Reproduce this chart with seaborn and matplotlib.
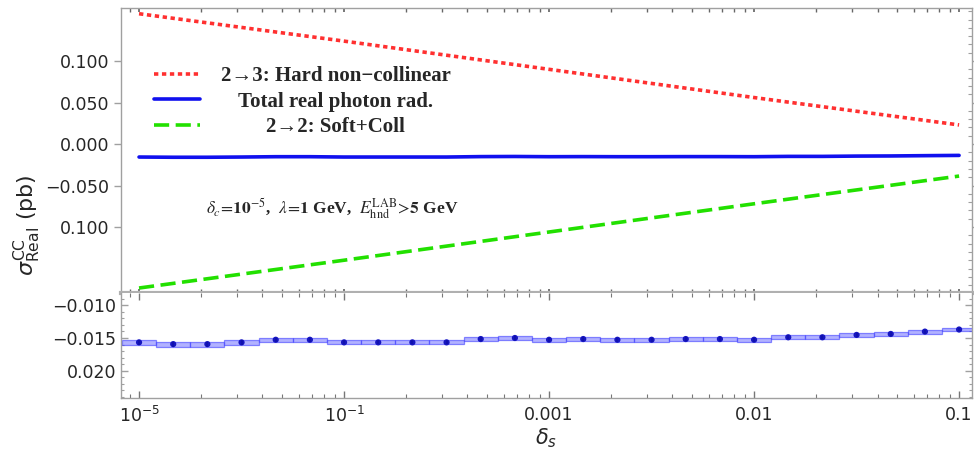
import numpy as np
import pandas as pd
import matplotlib
matplotlib.use("Agg")
import matplotlib.pyplot as plt
from matplotlib.ticker import FixedLocator, NullFormatter, LogLocator
import seaborn as sns

# ---------------- data ----------------
delta_s_lines = [1e-5, 1e-4, 1e-3, 1e-2, 1e-1]
hard_noncoll = [0.157, 0.124, 0.090, 0.056, 0.023]
soft_coll = [-0.1735, -0.140, -0.106, -0.072, -0.0386]

delta_s_pts = [10 ** (-5 + k / 6) for k in range(25)]
total_real = [-0.01567, -0.01594, -0.01594, -0.01567, -0.01527, -0.01527,
              -0.01567, -0.01567, -0.01567, -0.01567, -0.01516, -0.01500,
              -0.01527, -0.01516, -0.01527, -0.01527, -0.01516, -0.01516,
              -0.01527, -0.01489, -0.01489, -0.01453, -0.01438, -0.01402,
              -0.01370]
total_err = [0.0004, 0.0004, 0.0004, 0.0004, 0.0003, 0.0003, 0.0003,
             0.0003, 0.0003, 0.0003, 0.0003, 0.0003, 0.0003, 0.0003,
             0.0003, 0.0003, 0.0003, 0.0003, 0.0003, 0.0003, 0.0003,
             0.0003, 0.0003, 0.0003, 0.0003]

labels = ["2\u21923: Hard non\u2212collinear", "Total real photon rad.",
          "2\u21922: Soft+Coll"]

xtick_vals = [1e-5, 1e-4, 1e-3, 1e-2, 1e-1]
xtick_labels = ["$10^{-5}$", "$10^{-1}$", "0.001", "0.01", "0.1"]
top_ytick_vals = [0.1, 0.05, 0.0, -0.05, -0.1]
top_ytick_labels = ["0.100", "0.050", "0.000", "\u22120.050", "0.100"]
bot_ytick_vals = [-0.010, -0.015, -0.020]
bot_ytick_labels = ["\u22120.010", "\u22120.015", "0.020"]

# ---------------- style ----------------
sns.set_theme(style="white")
plt.rcParams["font.family"] = ["DejaVu Sans"]
frame_col = "#a0a0a0"
serif = ["Liberation Serif", "DejaVu Serif"]

fig = plt.figure(figsize=(9.74, 4.69), dpi=100)
ax1 = fig.add_axes([121 / 974, 1 - 293 / 469, (972 - 121) / 974, (293 - 8) / 469])
ax2 = fig.add_axes([121 / 974, 1 - 398 / 469, (972 - 121) / 974, (398 - 293) / 469], sharex=ax1)

for ax in (ax1, ax2):
    ax.set_xscale("log")
    for s in ax.spines.values():
        s.set_color(frame_col)
        s.set_linewidth(1.0)

xlo, xhi = 10 ** -5.088, 10 ** -0.937
ax1.set_xlim(xlo, xhi)

# top panel lines
df_r = pd.DataFrame({"x": delta_s_lines, "y": hard_noncoll})
df_g = pd.DataFrame({"x": delta_s_lines, "y": soft_coll})
df_b = pd.DataFrame({"x": delta_s_pts, "y": total_real})
sns.lineplot(data=df_r, x="x", y="y", ax=ax1, color="#ff3030", lw=2.6,
             linestyle=(0, (1.2, 1.0)), label=labels[0])
sns.lineplot(data=df_b, x="x", y="y", ax=ax1, color="#1010ee", lw=2.6,
             label=labels[1])
sns.lineplot(data=df_g, x="x", y="y", ax=ax1, color="#22e000", lw=2.6,
             linestyle=(0, (4.2, 1.8)), label=labels[2])

ax1.set_ylim(-0.1795, 0.1639)
ax1.set_xlabel("")
ax1.set_ylabel("")
ax1.yaxis.set_major_locator(FixedLocator(top_ytick_vals))
ax1.set_yticklabels(top_ytick_labels)
ax1.yaxis.set_minor_locator(FixedLocator(np.arange(-0.17, 0.165, 0.01)))
ax1.tick_params(axis="y", which="major", direction="out", length=5, width=1,
                color=frame_col, labelsize=12.5, left=True, right=True)
ax1.tick_params(axis="y", which="minor", direction="in", length=3, width=0.8,
                color=frame_col, left=False, right=True)
ax1.tick_params(axis="x", which="both", direction="in", color="#666666",
                bottom=True, top=True, labelbottom=False, length=3)
ax1.spines["bottom"].set_linewidth(3)
ax1.spines["bottom"].set_color("#b0b0b0")

leg = ax1.legend(loc="upper left", bbox_to_anchor=(0.017, 0.861), frameon=False,
                 handlelength=2.2, handletextpad=1.0, labelspacing=0.26,
                 prop={"family": serif, "weight": "bold", "size": 15})

ax1.text(0.248, 0.295,
         r"$\delta_c\!=\!\mathbf{10}^{-5}$,  $\lambda\!=\!\mathbf{1}$ GeV,  $E_{\rm hnd}^{\rm LAB}\!>\!\mathbf{5}$ GeV",
         transform=ax1.transAxes, ha="center", va="center", fontsize=12.5,
         family=serif, fontweight="bold", math_fontfamily="stix")

# bottom panel
half = 10 ** (1 / 12)
lefts = [x / half for x in delta_s_pts]
widths = [x * half - x / half for x in delta_s_pts]
bottoms = [v - e for v, e in zip(total_real, total_err)]
heights = [2 * e for e in total_err]
ax2.bar(lefts, heights, width=widths, bottom=bottoms, align="edge",
        color="#8080ff", alpha=0.6, edgecolor="#4040ff", linewidth=0.9)
df_p = pd.DataFrame({"x": delta_s_pts, "y": total_real, "e": total_err})
ax2.errorbar(df_p["x"], df_p["y"], yerr=df_p["e"], fmt="none", ecolor="#1010aa",
             elinewidth=1.2)
sns.scatterplot(data=df_p, x="x", y="y", ax=ax2, color="#1515c0", s=20,
                edgecolor="none", legend=False)

ax2.set_ylim(-0.0242, -0.0081)
ax2.yaxis.set_major_locator(FixedLocator(bot_ytick_vals))
ax2.set_yticklabels(bot_ytick_labels)
ax2.yaxis.set_minor_locator(FixedLocator(np.arange(-0.024, -0.008, 0.001)))
ax2.tick_params(axis="y", which="major", direction="in", length=5, width=1,
                color=frame_col, labelsize=12.5, left=True, right=True)
ax2.tick_params(axis="y", which="minor", direction="in", length=2.5, width=0.8,
                color=frame_col, left=True, right=True)
ax2.xaxis.set_major_locator(FixedLocator(xtick_vals))
ax2.set_xticklabels(xtick_labels)
ax2.xaxis.set_minor_locator(LogLocator(base=10, subs=np.arange(2, 10)))
ax2.xaxis.set_minor_formatter(NullFormatter())
ax2.tick_params(axis="x", which="major", direction="in", length=5, width=1,
                color="#777777", labelsize=12.5, pad=6, top=True, bottom=True)
ax2.tick_params(axis="x", which="minor", direction="in", length=3, width=0.8,
                color="#777777", top=True, bottom=True)
ax2.spines["top"].set_visible(False)
ax2.set_xlabel(r"$\delta_s$", fontsize=15, labelpad=0)
ax2.set_ylabel("")
ax2.set_xlim(xlo, xhi)

fig.text(0.028, 0.52, r"$\sigma^{\rm CC}_{\rm Real}$ (pb)", rotation=90,
         ha="center", va="center", fontsize=16)

# centre the legend labels (Mathematica style) by widening handle-text gaps
try:
    fig.canvas.draw()
    rend = fig.canvas.get_renderer()
    texts = leg.get_texts()
    ws = [t.get_window_extent(rend).width for t in texts]
    maxw = max(ws)
    col = leg._legend_handle_box.get_children()[0]
    for row, w in zip(col.get_children(), ws):
        row.sep += (maxw - w) / 2 / rend.points_to_pixels(1.0)
except Exception:
    pass

fig.savefig("out.png", dpi=100)
